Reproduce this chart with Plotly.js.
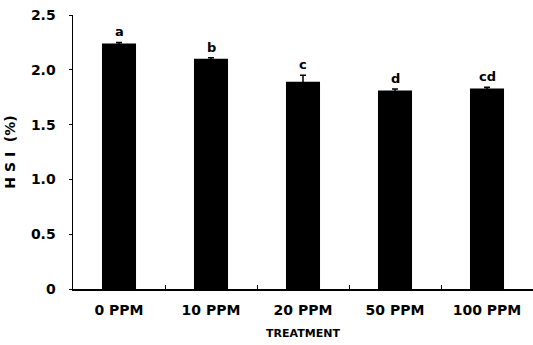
<!DOCTYPE html>
<html><head><meta charset="utf-8">
<script src="https://cdn.plot.ly/plotly-3.0.1.min.js"></script>
<style>html,body{margin:0;padding:0;background:#fff}#chart{width:533px;height:345px}</style>
</head><body><div id="chart"></div>
<script>
const categories = ["0 PPM", "10 PPM", "20 PPM", "50 PPM", "100 PPM"];
const hsi = [2.24, 2.10, 1.89, 1.81, 1.83];
const errors = [0.01, 0.01, 0.06, 0.015, 0.01];
const letters = ["a", "b", "c", "d", "cd"];
const yTickVals = [0, 0.5, 1.0, 1.5, 2.0, 2.5];
const yTickText = ["0", "0.5", "1.0", "1.5", "2.0", "2.5"];

const boldFont = {family: "DejaVu Sans", size: 14, color: "#000", weight: 900};

const trace = {
  type: "bar", x: categories, y: hsi,
  marker: {color: "#000", line: {width: 0}},
  width: 0.37,
  error_y: {type: "data", array: errors, visible: true, color: "#000", thickness: 1.5, width: 3},
  hoverinfo: "none"
};

const annotations = categories.map((c, i) => ({
  x: c, y: hsi[i] + errors[i], text: letters[i], showarrow: false,
  yanchor: "bottom", yshift: 1, font: {family: "DejaVu Sans", size: 13, color: "#000", weight: 900}
}));

const layout = {
  width: 533, height: 345,
  margin: {l: 73, r: 0, t: 15, b: 56},
  paper_bgcolor: "#fff", plot_bgcolor: "#fff",
  showlegend: false,
  xaxis: {
    type: "category", showline: true, linecolor: "#000", linewidth: 1.5,
    ticks: "inside", tickson: "boundaries", ticklen: 4, tickcolor: "#000",
    ticklabelstandoff: 8,
    tickfont: boldFont, showgrid: false, zeroline: false,
    title: {text: "TREATMENT", font: {family: "DejaVu Sans", size: 11, color: "#000", weight: 900}, standoff: 12}
  },
  yaxis: {
    range: [0, 2.5], showline: true, linecolor: "#000", linewidth: 1.5,
    tickvals: yTickVals, ticktext: yTickText,
    ticks: "outside", ticklen: 3, tickcolor: "#000", ticklabelstandoff: 10,
    tickfont: boldFont, showgrid: false, zeroline: false,
    title: {text: "H S I  (%)", font: {family: "DejaVu Sans", size: 14, color: "#000", weight: 900}, standoff: 12}
  },
  annotations: annotations
};

Plotly.newPlot("chart", [trace], layout, {displayModeBar: false, staticPlot: true});
</script></body></html>
